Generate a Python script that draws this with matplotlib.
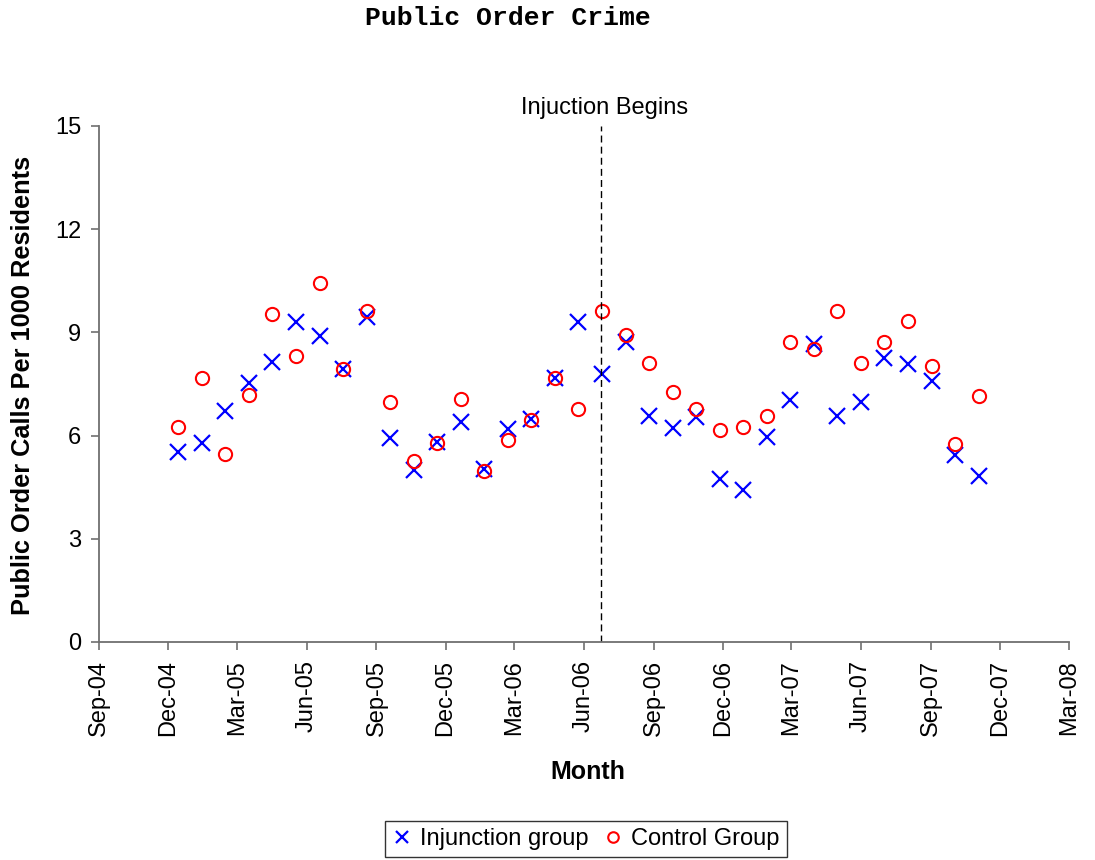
import matplotlib
matplotlib.use("Agg")
import matplotlib.pyplot as plt
import matplotlib.dates as mdates
import numpy as np
import pandas as pd

# ---- data ----
dates = ["2004-12-14", "2005-01-14", "2005-02-14", "2005-03-17", "2005-04-17",
         "2005-05-18", "2005-06-18", "2005-07-19", "2005-08-19", "2005-09-19",
         "2005-10-20", "2005-11-20", "2005-12-21", "2006-01-21", "2006-02-21",
         "2006-03-24", "2006-04-24", "2006-05-25", "2006-06-25", "2006-07-26",
         "2006-08-26", "2006-09-26", "2006-10-27", "2006-11-27", "2006-12-28",
         "2007-01-28", "2007-02-28", "2007-03-31", "2007-05-01", "2007-06-01",
         "2007-07-02", "2007-08-02", "2007-09-02", "2007-10-03", "2007-11-03"]
injunction = [5.53, 5.79, 6.72, 7.54, 8.13, 9.29, 8.89, 7.94, 9.46, 5.94,
              5.00, 5.82, 6.39, 5.03, 6.18, 6.47, 7.67, 9.29, 7.78, 8.73,
              6.58, 6.21, 6.55, 4.73, 4.42, 5.97, 7.03, 8.65, 6.58, 6.99,
              8.25, 8.08, 7.59, 5.44, 4.83]
control = [6.26, 7.67, 5.47, 7.17, 9.53, 8.31, 10.44, 7.94, 9.63, 6.97,
           5.27, 5.78, 7.06, 4.97, 5.87, 6.45, 7.68, 6.76, 9.62, 8.92,
           8.12, 7.26, 6.76, 6.16, 6.26, 6.57, 8.73, 8.52, 9.63, 8.12,
           8.73, 9.33, 8.02, 5.76, 7.16]
injunction_start = "2006-06-24"
x_min, x_max = "2004-09-01", "2008-03-01"
y_ticks = [0, 3, 6, 9, 12, 15]

x = pd.to_datetime(dates)

W, H = 1095, 860
fig = plt.figure(figsize=(W / 100, H / 100), dpi=100)
ax = fig.add_axes([99.3 / W, 1 - 642 / H, (1069 - 99.3) / W, 516 / H])

ax.plot(x, injunction, linestyle="none", marker="x", color="#0000FF",
        markersize=11, markeredgewidth=1.6, label="Injunction group")
ax.plot(x, control, linestyle="none", marker="o", markerfacecolor="none",
        markeredgecolor="#FF0000", markersize=9.5, markeredgewidth=1.5,
        label="Control Group")

ax.axvline(pd.Timestamp(injunction_start), ymin=0, ymax=1, color="black",
           linestyle=(0, (5, 3)), linewidth=1.0)

ax.set_xlim(pd.Timestamp(x_min), pd.Timestamp(x_max))
ax.set_ylim(0, 15)
ax.set_yticks(y_ticks)
ax.xaxis.set_major_locator(mdates.MonthLocator(bymonth=[3, 6, 9, 12]))
ax.xaxis.set_major_formatter(mdates.DateFormatter("%b-%y"))

for s in ["top", "right"]:
    ax.spines[s].set_visible(False)
for s in ["left", "bottom"]:
    ax.spines[s].set_color("#707070")
    ax.spines[s].set_linewidth(1.3)

ax.tick_params(axis="both", direction="out", length=6, width=1.2,
               color="#707070", labelsize=17, labelcolor="black")
ax.tick_params(axis="x", pad=7, labelrotation=90)
ax.tick_params(axis="y", pad=7)
for lab in ax.get_xticklabels() + ax.get_yticklabels():
    lab.set_fontfamily("Liberation Sans")
    lab.set_fontsize(17)

# texts
fig.text(508 / W, 1 - 18 / H, "Public Order Crime", ha="center", va="center",
         fontfamily="Liberation Mono", fontweight="bold", fontsize=19)
fig.text(23 / W, 1 - 385 / H, "Public Order Calls Per 1000 Residents",
         rotation=90, ha="center", va="center", fontfamily="Liberation Sans",
         fontweight="bold", fontsize=18.3)
fig.text(588 / W, 1 - 772 / H, "Month", ha="center", va="center",
         fontfamily="Liberation Sans", fontweight="bold", fontsize=18)
fig.text(605 / W, 1 - 108 / H, "Injuction Begins", ha="center", va="center",
         fontfamily="Liberation Sans", fontsize=17)

leg = fig.legend(loc="center", bbox_to_anchor=(586 / W, 1 - 839 / H), ncol=2,
                 frameon=True, fancybox=False, edgecolor="black",
                 prop={"family": "Liberation Sans", "size": 17},
                 handlelength=0.8, handletextpad=0.4, columnspacing=0.6,
                 borderpad=0.3, markerscale=0.8)
leg.get_frame().set_linewidth(1.0)

fig.savefig("out.png", dpi=100)
